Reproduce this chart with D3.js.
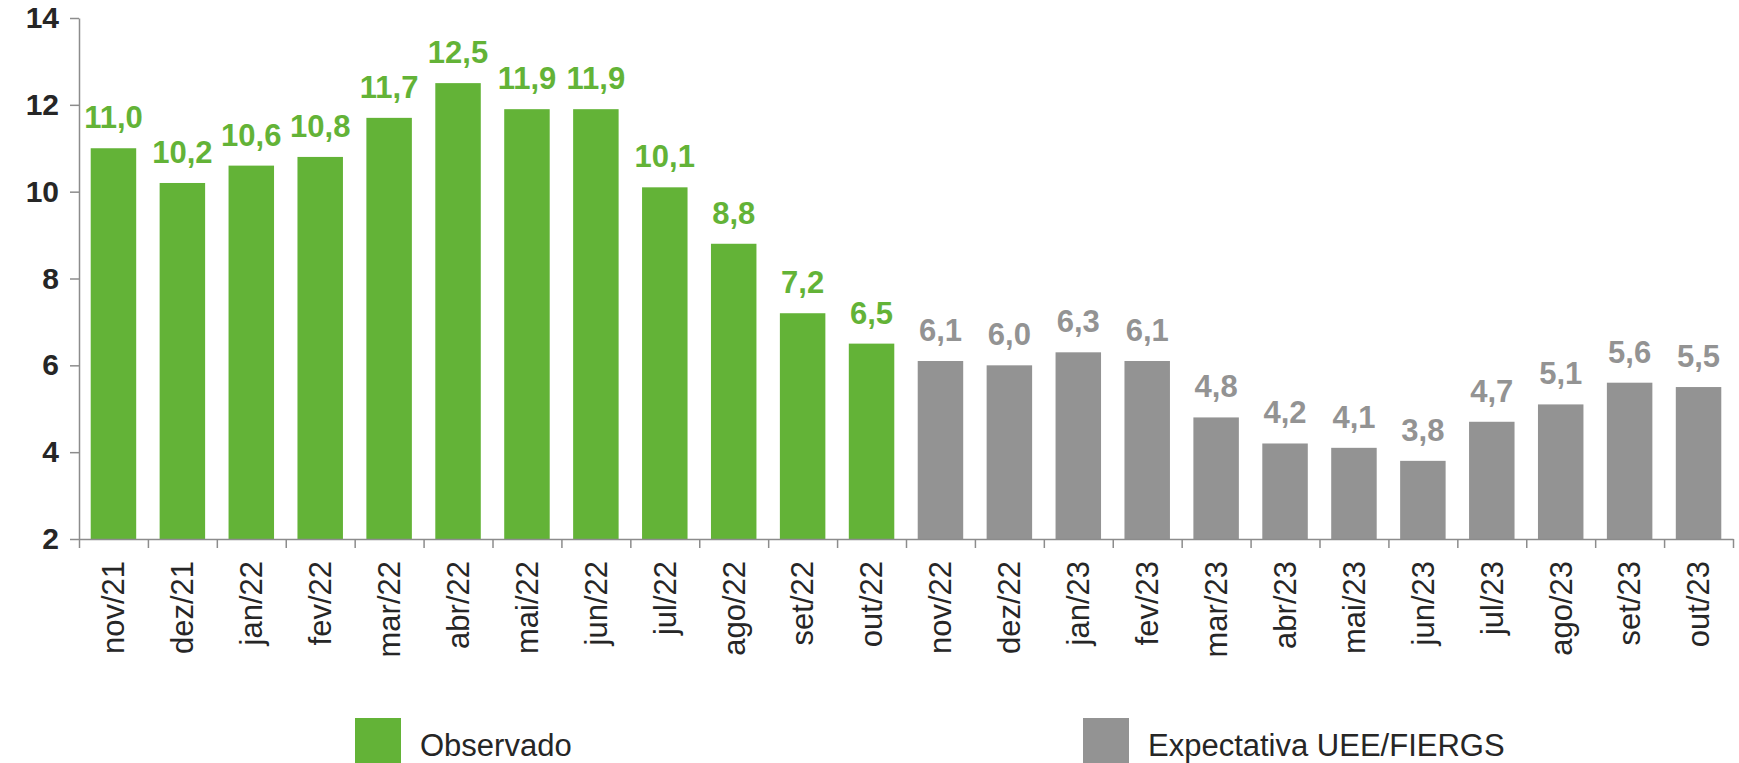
<!DOCTYPE html>
<html>
<head>
<meta charset="utf-8">
<script src="https://cdn.jsdelivr.net/npm/d3@7"></script>
<style>
  html, body { margin: 0; padding: 0; background: #fff; }
  svg { display: block; font-family: "Liberation Sans", Arial, sans-serif; }
</style>
</head>
<body>
<div id="chart"></div>
<script>
const months = ['nov/21', 'dez/21', 'jan/22', 'fev/22', 'mar/22', 'abr/22', 'mai/22', 'jun/22', 'jul/22', 'ago/22', 'set/22', 'out/22',
  'nov/22', 'dez/22', 'jan/23', 'fev/23', 'mar/23', 'abr/23', 'mai/23', 'jun/23', 'jul/23', 'ago/23', 'set/23', 'out/23']
const observado = [11.0, 10.2, 10.6, 10.8, 11.7, 12.5, 11.9, 11.9, 10.1, 8.8, 7.2, 6.5]
const expectativa = [6.1, 6.0, 6.3, 6.1, 4.8, 4.2, 4.1, 3.8, 4.7, 5.1, 5.6, 5.5]
const yTicks = [2, 4, 6, 8, 10, 12, 14]
const legendNames = ['Observado', 'Expectativa UEE/FIERGS']

const width = 1739
const height = 763
const margin = {top: 18, right: 6, bottom: 224, left: 79}
const GREEN = '#63b337'
const GREY = '#939393'
const TEXT = '#262626'
const AXIS = '#8c8c8c'

const data = months.map((m, i) => i < observado.length
  ? {month: m, value: observado[i], kind: 0}
  : {month: m, value: expectativa[i - observado.length], kind: 1})
const colors = [GREEN, GREY]

const svg = d3.select('#chart').append('svg')
  .attr('width', width).attr('height', height)

const x = d3.scaleBand()
  .domain(months)
  .range([margin.left, width - margin.right])
  .paddingInner(0.34)
  .paddingOuter(0.17)

const xEdge = d3.scaleLinear()
  .domain([0, months.length])
  .range([margin.left, width - margin.right])

const y = d3.scaleLinear()
  .domain([2, 14])
  .range([height - margin.bottom, margin.top])

// bars
svg.append('g')
  .selectAll('rect')
  .data(data)
  .join('rect')
  .attr('x', d => x(d.month))
  .attr('y', d => y(d.value))
  .attr('width', x.bandwidth())
  .attr('height', d => y(2) - y(d.value))
  .attr('fill', d => colors[d.kind])

// value labels
svg.append('g')
  .selectAll('text')
  .data(data)
  .join('text')
  .attr('x', d => x(d.month) + x.bandwidth() / 2)
  .attr('y', d => y(d.value) - 20)
  .attr('text-anchor', 'middle')
  .attr('font-size', 31)
  .attr('font-weight', 'bold')
  .attr('fill', d => colors[d.kind])
  .text(d => d.value.toFixed(1).replace('.', ','))

// y axis
svg.append('g')
  .attr('transform', `translate(${margin.left},0)`)
  .call(d3.axisLeft(y).tickValues(yTicks).tickSize(9).tickSizeOuter(0).tickPadding(11))
  .call(g => {
    g.select('.domain').attr('stroke', AXIS).attr('stroke-width', 1.5)
    g.selectAll('.tick line').attr('stroke', AXIS).attr('stroke-width', 1.5)
    g.selectAll('.tick text')
      .attr('font-size', 30).attr('font-weight', 'bold').attr('fill', TEXT)
      .attr('font-family', '"Liberation Sans", Arial, sans-serif')
  })

// x axis line + ticks on category edges
svg.append('g')
  .attr('transform', `translate(0,${y(2)})`)
  .call(d3.axisBottom(xEdge).tickValues(d3.range(months.length + 1))
    .tickSize(9).tickSizeOuter(0).tickFormat(''))
  .call(g => {
    g.select('.domain').attr('stroke', AXIS).attr('stroke-width', 1.5)
    g.selectAll('.tick line').attr('stroke', AXIS).attr('stroke-width', 1.5)
  })

// x labels
svg.append('g')
  .attr('transform', `translate(0,${y(2)})`)
  .call(d3.axisBottom(x).tickSize(0).tickSizeOuter(0))
  .call(g => {
    g.select('.domain').remove()
    g.selectAll('.tick text')
      .attr('transform', 'rotate(-90)')
      .attr('x', -22).attr('y', 0).attr('dy', '0.35em')
      .attr('text-anchor', 'end')
      .attr('font-size', 31).attr('fill', TEXT)
      .attr('font-family', '"Liberation Sans", Arial, sans-serif')
  })

// legend
const legendX = [355, 1083]
const legend = svg.append('g')
  .selectAll('g')
  .data(legendNames)
  .join('g')
  .attr('transform', (d, i) => `translate(${legendX[i]},718)`)
legend.append('rect')
  .attr('width', 46).attr('height', 46)
  .attr('fill', (d, i) => colors[i])
legend.append('text')
  .attr('x', 65).attr('y', 38)
  .attr('font-size', 31).attr('fill', TEXT)
  .text(d => d)
</script>
</body>
</html>
